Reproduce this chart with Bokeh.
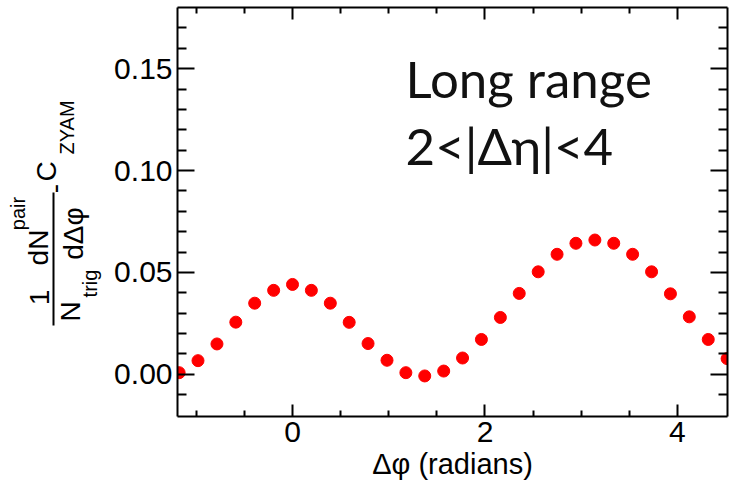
from math import pi
from bokeh.plotting import figure
from bokeh.models import (Range1d, FixedTicker, NumeralTickFormatter, LinearAxis,
                          CustomJSTickFormatter, Label)
from bokeh.layouts import row
from bokeh.core.properties import value
from bokeh.embed import file_html
from bokeh.resources import INLINE

# ---------------- data ----------------
dphi = [-1.178, -0.982, -0.785, -0.589, -0.393, -0.196, 0.000, 0.196, 0.393, 0.589,
        0.785, 0.982, 1.178, 1.374, 1.571, 1.767, 1.963, 2.160, 2.356, 2.553,
        2.749, 2.945, 3.142, 3.338, 3.534, 3.731, 3.927, 4.123, 4.320, 4.516]
corr = [0.0008, 0.0067, 0.0149, 0.0256, 0.0349, 0.0412, 0.0441, 0.0412, 0.0349, 0.0255,
        0.0151, 0.0069, 0.0008, -0.0008, 0.0016, 0.0080, 0.0171, 0.0279, 0.0397, 0.0503,
        0.0589, 0.0643, 0.0659, 0.0643, 0.0589, 0.0503, 0.0395, 0.0282, 0.0171, 0.0077]

x_major = [0, 2, 4]
x_minor = [-1, -0.5, 0.5, 1, 1.5, 2.5, 3, 3.5]
y_major = [0.00, 0.05, 0.10, 0.15]
y_minor = [-0.01, 0.01, 0.02, 0.03, 0.04, 0.06, 0.07, 0.08, 0.09,
           0.11, 0.12, 0.13, 0.14, 0.16, 0.17]

x_title = "Δφ (radians)"
note_lines = ["Long range", "2<|Δη|<4"]
ylab_big = ["1", "dN", "N", "dΔφ", "-", "C"]
ylab_small = ["pair", "trig", "ZYAM"]

FONT = "Liberation Sans"
H = 499

# ---------------- main plot ----------------
p = figure(width=627, height=H, output_backend="svg", toolbar_location=None,
           x_range=Range1d(-1.195, 4.52), y_range=Range1d(-0.0207, 0.180),
           min_border_left=72, min_border_right=5, min_border_top=7,
           min_border_bottom=83)
p.grid.visible = False
p.outline_line_color = None
p.background_fill_color = "white"
p.border_fill_color = "white"


def style_axis(ax, major, minor, tin, tmin):
    ax.ticker = FixedTicker(ticks=major, minor_ticks=minor)
    ax.axis_line_width = 2
    ax.axis_line_color = "black"
    ax.major_tick_in = tin
    ax.major_tick_out = 0
    ax.minor_tick_in = tmin
    ax.minor_tick_out = 0
    ax.major_tick_line_width = 2
    ax.minor_tick_line_width = 2
    ax.major_tick_line_color = "black"
    ax.minor_tick_line_color = "black"


xa = p.below[0]
ya = p.left[0]
style_axis(xa, x_major, x_minor, 12, 6)
style_axis(ya, y_major, y_minor, 17, 9)
xa.formatter = NumeralTickFormatter(format="0")
ya.formatter = NumeralTickFormatter(format="0.00")
for ax in (xa, ya):
    ax.major_label_text_font = FONT
    ax.major_label_text_font_size = "30px"
    ax.major_label_text_color = "black"
xa.major_label_standoff = 5
ya.major_label_standoff = 5
xa.axis_label = x_title
xa.axis_label_text_font = FONT
xa.axis_label_text_font_size = "29px"
xa.axis_label_text_font_style = "normal"
xa.axis_label_text_color = "black"
xa.axis_label_standoff = 3

top = LinearAxis(formatter=CustomJSTickFormatter(code="return ''"),
                 major_label_text_font_size="1px", major_label_standoff=0)
right = LinearAxis(formatter=CustomJSTickFormatter(code="return ''"),
                   major_label_text_font_size="1px", major_label_standoff=0)
style_axis(top, x_major, x_minor, 12, 6)
style_axis(right, y_major, y_minor, 17, 9)
p.add_layout(top, "above")
p.add_layout(right, "right")

p.scatter(dphi, corr, size=12, fill_color="#ff0000", line_color="#ff0000")

for txt, yb in zip(note_lines, [0.1451, 0.1121]):
    p.add_layout(Label(x=1.175, y=yb, text=txt, text_font="Lato", text_font_size="51px",
                       text_color="#111111", text_align="left", text_baseline="alphabetic"))

# ---------------- y-axis label panel (frame is aligned with the main frame) ----------------
q = figure(width=105, height=H, output_backend="svg", toolbar_location=None,
           x_range=Range1d(0, 105), y_range=Range1d(416, 7), min_border=0,
           x_axis_type=None, y_axis_type=None)
q.grid.visible = False
q.outline_line_color = None
q.background_fill_color = "white"
q.border_fill_color = "white"

q.text(x=[39, 38, 70, 73, 54, 46], y=[297, 247, 311, 233, 188, 171], text=ylab_big,
       angle=pi / 2, text_align="center", text_baseline="middle",
       text_font=value(FONT), text_font_size="28px", text_color="black")
q.text(x=[17, 89, 66], y=[213, 283, 127], text=ylab_small,
       angle=pi / 2, text_align="center", text_baseline="middle",
       text_font=value(FONT), text_font_size="20px", text_color="black")
q.line(x=[53, 53], y=[192, 325], line_width=2, line_color="black")

layout = row(q, p)
open("out.html", "w").write(file_html(layout, INLINE))
